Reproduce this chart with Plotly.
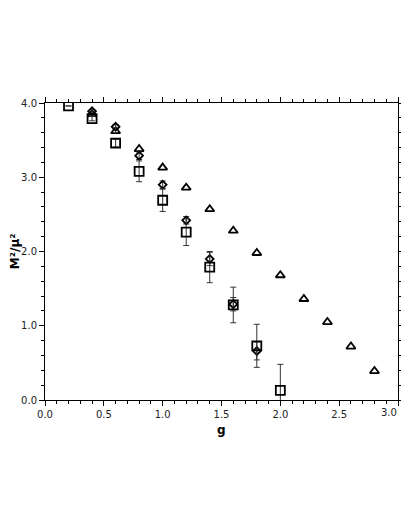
import plotly.graph_objects as go

# values
g_sq = [0.2, 0.4, 0.6, 0.8, 1.0, 1.2, 1.4, 1.6, 1.8, 2.0]
m_sq = [3.96, 3.79, 3.46, 3.08, 2.69, 2.26, 1.79, 1.28, 0.73, 0.13]
err_sq = [0.0, 0.03, 0.05, 0.14, 0.15, 0.18, 0.21, 0.24, 0.29, 0.35]

g_dia = [0.4, 0.6, 0.8, 1.0, 1.2, 1.4, 1.6, 1.8]
m_dia = [3.89, 3.68, 3.29, 2.90, 2.42, 1.90, 1.29, 0.66]
err_dia = [0.02, 0.03, 0.05, 0.05, 0.05, 0.09, 0.09, 0.12]

g_tri = [0.4, 0.6, 0.8, 1.0, 1.2, 1.4, 1.6, 1.8, 2.0, 2.2, 2.4, 2.6, 2.8]
m_tri = [3.85, 3.62, 3.38, 3.13, 2.86, 2.57, 2.28, 1.98, 1.68, 1.36, 1.05, 0.72, 0.39]

x_ticks = [0.0, 0.5, 1.0, 1.5, 2.0, 2.5, 3.0]
y_ticks = [0.0, 1.0, 2.0, 3.0, 4.0]

FONT = "DejaVu Sans"
TICK_FONT = dict(family=FONT, size=10, color="#222222")
TITLE_FONT = dict(family=FONT, size=12, color="black")

fig = go.Figure()
fig.add_trace(go.Scatter(
    x=g_tri, y=m_tri, mode="markers",
    marker=dict(symbol="triangle-up-open", size=8, color="black",
                line=dict(width=1.8, color="black")),
))
fig.add_trace(go.Scatter(
    x=g_dia, y=m_dia, mode="markers",
    marker=dict(symbol="diamond-open", size=6, color="black",
                line=dict(width=1.8, color="black")),
    error_y=dict(type="data", array=err_dia, color="#333333",
                 thickness=1, width=3),
))
fig.add_trace(go.Scatter(
    x=g_sq, y=m_sq, mode="markers",
    marker=dict(symbol="square-open", size=9, color="black",
                line=dict(width=1.8, color="black")),
    error_y=dict(type="data", array=err_sq, color="#333333",
                 thickness=1, width=3),
))

axis_style = dict(
    showline=True, linecolor="black", linewidth=1, mirror="allticks",
    ticks="outside", ticklen=5, tickwidth=1, tickcolor="black",
    showgrid=False, zeroline=False, automargin=False,
    tickfont=TICK_FONT,
)

# last x label sits left of its tick in the reference, so it is an annotation
fig.update_xaxes(
    range=[0, 3], tickvals=x_ticks,
    ticktext=[f"{v:.1f}" for v in x_ticks[:-1]] + [""],
    minor=dict(dtick=0.1, ticks="outside", ticklen=3, tickcolor="black"),
    **axis_style,
)
fig.update_yaxes(
    range=[0, 4], tickvals=y_ticks,
    ticktext=[f"{v:.1f}" for v in y_ticks],
    minor=dict(dtick=0.2, ticks="outside", ticklen=3, tickcolor="black"),
    **axis_style,
)

fig.add_annotation(x=x_ticks[-1], y=0, xref="x", yref="y",
                   text=f"{x_ticks[-1]:.1f}", showarrow=False,
                   xanchor="right", yanchor="top", yshift=-5, xshift=1,
                   font=TICK_FONT)
fig.add_annotation(x=0.5, y=-0.1, xref="paper", yref="paper",
                   text="<b>g</b>", showarrow=False,
                   xanchor="center", yanchor="middle", font=TITLE_FONT)
fig.add_annotation(x=-0.086, y=0.5, xref="paper", yref="paper",
                   text="<b>M²/μ²</b>", showarrow=False, textangle=-90,
                   xanchor="center", yanchor="middle", font=TITLE_FONT)

# the page body adds an 8px margin, so the figure is kept a bit smaller
# than the window (no scrollbar)
fig.update_layout(
    width=401, height=513,
    margin=dict(l=37, r=11, t=95, b=121),
    plot_bgcolor="white", paper_bgcolor="white",
    showlegend=False,
)

fig.write_html("out.html")
